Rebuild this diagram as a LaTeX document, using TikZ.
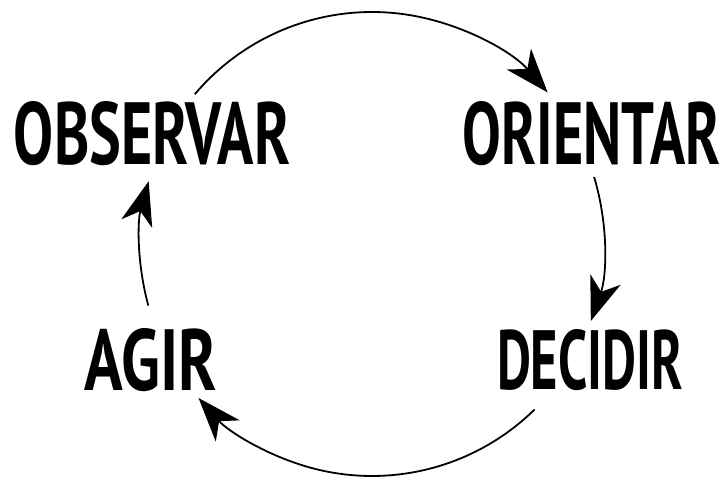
\documentclass[tikz,border=0pt]{standalone}
\usepackage{fontspec}
\usepackage{graphicx}
\setmainfont{PT Sans}
\usetikzlibrary{arrows.meta}
\tikzset{
  word/.style={inner sep=0pt, outer sep=0pt, text=black},
  flow/.style={line width=1.8pt, black, -{Stealth[length=44pt,width=32pt,inset=13pt]}}
}
\newcommand{\hw}[3]{\resizebox{#1pt}{#2pt}{\bfseries #3}}
\begin{document}
\begin{tikzpicture}[x=1pt,y=1pt]
\useasboundingbox (0,0) rectangle (725,477);
% words
\node[word] (obs) at (152,343) {\hw{276}{63}{OBSERVAR}};
\node[word] (ori) at (591.5,343) {\hw{257}{63}{ORIENTAR}};
\node[word] (dec) at (590,117) {\hw{186}{60}{DECIDIR}};
\node[word] (agi) at (151,117) {\hw{132}{62}{AGIR}};
% cycle points
\coordinate (c) at (372,233);
\coordinate (t1) at ([shift={(139.8:232)}]c);
\coordinate (r1) at ([shift={(16.8:232)}]c);
\coordinate (b1) at ([shift={(-45.5:232)}]c);
\coordinate (l1) at ([shift={(195.4:232)}]c);
% connectors
\draw[flow] (t1) arc[start angle=139.8, end angle=40.8, radius=232];
\draw[flow] (r1) arc[start angle=16.8, end angle=-19.4, radius=232];
\draw[flow] (b1) arc[start angle=-45.5, end angle=-138.4, radius=232];
\draw[flow] (l1) arc[start angle=195.4, end angle=164.3, radius=232];
\end{tikzpicture}
\end{document}
